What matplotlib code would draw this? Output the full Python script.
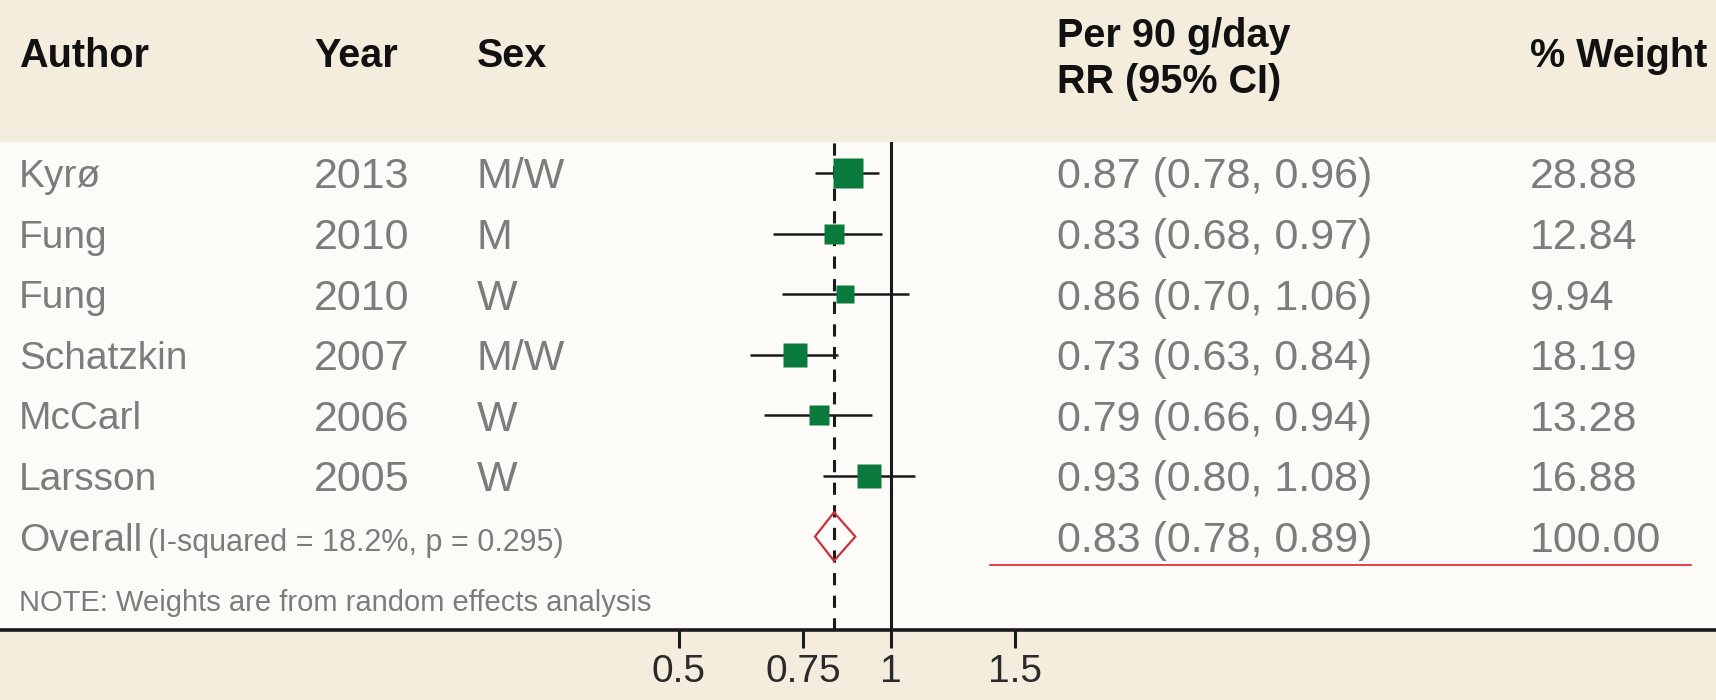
import numpy as np
import matplotlib
matplotlib.use("Agg")
import matplotlib.pyplot as plt
from matplotlib import transforms
from matplotlib.patches import Polygon
from matplotlib.ticker import NullLocator
from matplotlib.lines import Line2D

# ---- study data -------------------------------------------------------
authors = ["Kyrø", "Fung", "Fung", "Schatzkin", "McCarl", "Larsson"]
years = ["2013", "2010", "2010", "2007", "2006", "2005"]
sexes = ["M/W", "M", "W", "M/W", "W", "W"]
rr = [0.87, 0.83, 0.86, 0.73, 0.79, 0.93]
ci_low = [0.78, 0.68, 0.70, 0.63, 0.66, 0.80]
ci_high = [0.96, 0.97, 1.06, 0.84, 0.94, 1.08]
weights = [28.88, 12.84, 9.94, 18.19, 13.28, 16.88]

overall_rr = 0.83
overall_low = 0.78
overall_high = 0.89
overall_weight = 100.00
heterogeneity = "(I-squared = 18.2%, p = 0.295)"
note = "NOTE: Weights are from random effects analysis"

x_ticks = [0.5, 0.75, 1, 1.5]
x_ticklabels = ["0.5", "0.75", "1", "1.5"]

headers = ["Author", "Year", "Sex", "Per 90 g/day\nRR (95% CI)", "% Weight"]

# ---- style ------------------------------------------------------------
BEIGE = "#F4EDDE"
PANEL = "#FDFBF8"
GRAY = "#7c7c7c"
GREEN = "#0a7a3c"
RED = "#c8303f"
INK = "#1a1a1a"
FONT = "Liberation Sans"

W, H = 1716, 700
DPI = 100
PANEL_TOP, AXIS_Y = 142, 630          # pixel rows of the white panel
FIRST_ROW, ROW_STEP = 173, 60.6       # pixel row of first study, spacing
ONE_X, LN_SCALE = 891, 306            # pixel column of RR=1, px per ln unit

COL_AUTHOR, COL_YEAR, COL_SEX, COL_RR, COL_W = 19, 314, 477, 1057, 1530

fig = plt.figure(figsize=(W / DPI, H / DPI), dpi=DPI, facecolor=BEIGE)
ax = fig.add_axes([0, (H - AXIS_Y) / H, 1, (AXIS_Y - PANEL_TOP) / H])
ax.set_facecolor(PANEL)

ax.set_xscale("log")
ax.set_xlim(np.exp(-ONE_X / LN_SCALE), np.exp((W - ONE_X) / LN_SCALE))
top_rows = (FIRST_ROW - PANEL_TOP) / ROW_STEP
bottom_rows = (AXIS_Y - FIRST_ROW) / ROW_STEP
ax.set_ylim(bottom_rows, -top_rows)

ax.set_xticks(x_ticks)
ax.set_xticklabels(x_ticklabels, family=FONT)
ax.xaxis.set_minor_locator(NullLocator())
ax.set_yticks([])
ax.tick_params(axis="x", length=13, width=2.2, pad=4, labelsize=28,
               color=INK, labelcolor="#2a2a2a")
for side in ("top", "left", "right"):
    ax.spines[side].set_visible(False)
ax.spines["bottom"].set_linewidth(2.6)
ax.spines["bottom"].set_color(INK)

# reference lines
ax.axvline(1.0, color=INK, lw=2.2, zorder=2)
ax.axvline(overall_rr, color=INK, lw=2.2, dashes=(4, 3.4), zorder=2)

rows = np.arange(len(authors))
overall_row = len(authors)
note_row = overall_row + 1.05

# confidence intervals and weighted squares
ax.hlines(rows, ci_low, ci_high, color=INK, lw=1.8, zorder=3)
for y, est, w in zip(rows, rr, weights):
    ax.plot(est, y, marker="s", ms=4.1 * np.sqrt(w), color=GREEN,
            mec="none", zorder=4)

# pooled estimate diamond
half_h = 0.4
diamond = Polygon([[overall_low, overall_row],
                   [overall_rr, overall_row - half_h],
                   [overall_high, overall_row],
                   [overall_rr, overall_row + half_h]],
                  closed=True, fill=False, edgecolor=RED, lw=1.6, zorder=4)
ax.add_patch(diamond)

# ---- table text -------------------------------------------------------
blend = transforms.blended_transform_factory(fig.transFigure, ax.transData)


def cap_half(size):
    return 0.716 * size * DPI / 72 / 2


def row_text(x_px, y, s, size, color=GRAY, shift=None, **kw):
    tr = transforms.offset_copy(blend, fig=fig,
                                y=-cap_half(shift if shift else size),
                                units="dots")
    ax.text(x_px / W, y, s, transform=tr, fontsize=size, color=color,
            family=FONT, va="baseline", ha="left", **kw)


NAME_SIZE, NUM_SIZE = 28, 31
for y, a, yr, sx, est, lo, hi, w in zip(rows, authors, years, sexes, rr,
                                         ci_low, ci_high, weights):
    row_text(COL_AUTHOR, y, a, NAME_SIZE)
    row_text(COL_YEAR, y, yr, NUM_SIZE)
    row_text(COL_SEX, y, sx, NUM_SIZE)
    row_text(COL_RR, y, f"{est:.2f} ({lo:.2f}, {hi:.2f})", NUM_SIZE)
    row_text(COL_W, y, f"{w:.2f}", NUM_SIZE)

row_text(COL_AUTHOR, overall_row, "Overall", NAME_SIZE)
row_text(148, overall_row, heterogeneity, 22, shift=NAME_SIZE)
row_text(COL_RR, overall_row,
         f"{overall_rr:.2f} ({overall_low:.2f}, {overall_high:.2f})", NUM_SIZE)
row_text(COL_W, overall_row, f"{overall_weight:.2f}", NUM_SIZE)
row_text(COL_AUTHOR, note_row, note, 21)

# underline beneath the pooled-estimate row
ax.add_line(Line2D([990 / W, 1691 / W], [6.47, 6.47], transform=blend,
                   color="#d40f1c", lw=1.1, zorder=5))

# ---- header -------------------------------------------------------------
HEAD_SIZE = 28.5


def head_text(x_px, y_px, s):
    fig.text(x_px / W, 1 - (y_px + cap_half(HEAD_SIZE)) / H, s,
             fontsize=HEAD_SIZE, fontweight="bold", color="#111111",
             family=FONT, va="baseline", ha="left")


head_text(COL_AUTHOR, 53, headers[0])
head_text(COL_YEAR, 53, headers[1])
head_text(COL_SEX, 53, headers[2])
rr_lines = headers[3].split("\n")
head_text(COL_RR, 33, rr_lines[0])
head_text(COL_RR, 79, rr_lines[1])
head_text(COL_W, 53, headers[4])

fig.savefig("out.png", dpi=DPI, facecolor=BEIGE)
